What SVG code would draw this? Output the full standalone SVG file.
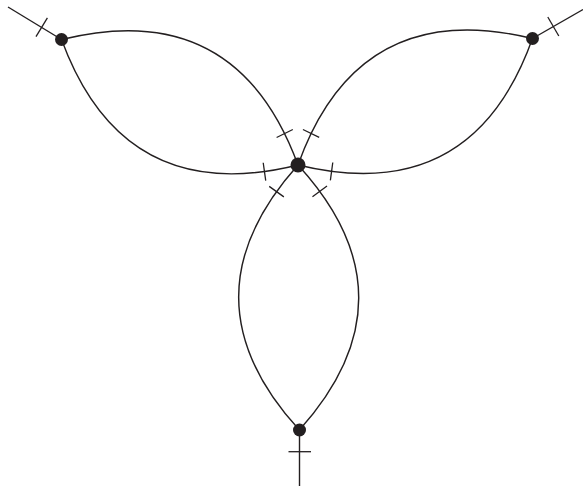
<svg xmlns="http://www.w3.org/2000/svg" width="583" height="489" viewBox="0 0 583 489">
<style>
.arc{fill:none;stroke:#231f20;stroke-width:1.4}
.tick{fill:none;stroke:#231f20;stroke-width:1.3}
.node{fill:#231f20}
</style>
<rect width="583" height="489" fill="#fff"/>
<g id="connectors">
  <g transform="translate(298,165) rotate(89.7)">
    <path class="arc" d="M0,0 C88.3,80 176.7,80 265,0"/>
    <path class="arc" d="M0,0 C88.3,-80 176.7,-80 265,0"/>
    <path class="tick" d="M21.2,28.9 L31.8,14.3 M21.2,-28.9 L31.8,-14.3"/>
  </g>
  <g transform="translate(298,165) rotate(-152.05)">
    <path class="arc" d="M0,0 C89.2,80 178.5,80 267.7,0"/>
    <path class="arc" d="M0,0 C89.2,-80 178.5,-80 267.7,0"/>
    <path class="tick" d="M21.2,28.9 L31.8,14.3 M21.2,-28.9 L31.8,-14.3"/>
  </g>
  <g transform="translate(298,165) rotate(-28.34)">
    <path class="arc" d="M0,0 C88.8,80 177.6,80 266.4,0"/>
    <path class="arc" d="M0,0 C88.8,-80 177.6,-80 266.4,0"/>
    <path class="tick" d="M21.2,28.9 L31.8,14.3 M21.2,-28.9 L31.8,-14.3"/>
  </g>
  <path class="arc" d="M8,7 L61.5,39.5"/>
  <path class="tick" d="M36,36.7 L47.4,17.9"/>
  <path class="arc" d="M532.5,38.5 L583,9.5"/>
  <path class="tick" d="M547.8,17 L558.8,36"/>
  <path class="arc" d="M299.5,430 L299.5,486"/>
  <path class="tick" d="M288.5,451.7 L311,451.7"/>
</g>
<g id="node-center"><circle class="node" cx="298" cy="165" r="7.5"/></g>
<g id="node-topleft"><circle class="node" cx="61.5" cy="39.5" r="6.5"/></g>
<g id="node-topright"><circle class="node" cx="532.5" cy="38.5" r="6.5"/></g>
<g id="node-bottom"><circle class="node" cx="299.5" cy="430" r="6.5"/></g>
</svg>
